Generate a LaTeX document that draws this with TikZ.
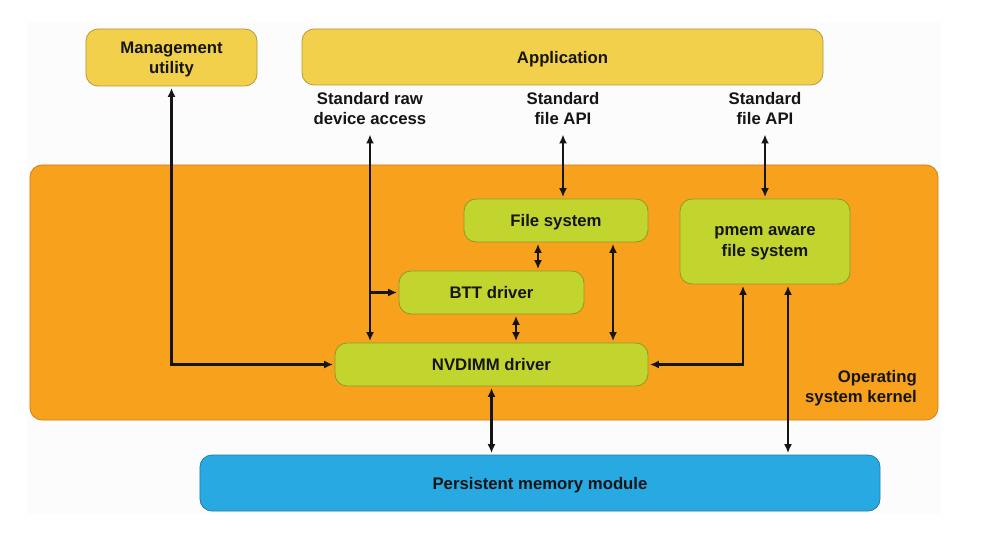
\documentclass[tikz,border=0pt]{standalone}
\usepackage{fontspec}
\setmainfont{Liberation Sans}
\usetikzlibrary{arrows.meta,calc}
\definecolor{yel}{HTML}{F2D04B}
\definecolor{yelb}{HTML}{B39A3C}
\definecolor{ora}{HTML}{F7A11C}
\definecolor{orab}{HTML}{C8821E}
\definecolor{grn}{HTML}{C2D52F}
\definecolor{grnb}{HTML}{8C9A25}
\definecolor{blu}{HTML}{28A9E1}
\definecolor{blub}{HTML}{1F7FA9}
\definecolor{txt}{HTML}{151515}
\definecolor{bgc}{HTML}{FCFCFC}
\tikzset{
  lbl/.style={font=\fontsize{16.8}{20.5}\selectfont\bfseries, text=txt, align=center, inner sep=0pt},
  boxbase/.style={rectangle, rounded corners=12bp, line width=0.8bp, lbl, text depth=0pt},
  ybox/.style={boxbase, fill=yel, draw=yelb},
  gbox/.style={boxbase, fill=grn, draw=grnb},
  bbox/.style={boxbase, fill=blu, draw=blub},
  tip/.style={Latex[length=9bp,width=8bp]},
  conn/.style={line width=2.4bp, draw=txt, {Latex[length=9bp,width=8bp]}-{Latex[length=9bp,width=8bp]}, shorten <=1.5bp, shorten >=1.5bp},
  oneway/.style={line width=2.4bp, draw=txt, -{Latex[length=9bp,width=8bp]}, shorten >=1.5bp}
}
\begin{document}
\begin{tikzpicture}[x=1bp,y=-1bp]
\useasboundingbox (0,0) rectangle (981,534);
\fill[white] (0,0) rectangle (981,534);
\fill[bgc] (27,22) rectangle (941,514);
% kernel
\node[rectangle, rounded corners=12bp, fill=ora, draw=orab, line width=0.8bp, minimum width=908bp, minimum height=255bp] (kern) at (484,292.5) {};
\node[lbl, anchor=east, align=right] (kernlbl) at (917,388) {Operating\\system kernel};
% top boxes
\node[ybox, minimum width=171bp, minimum height=57bp] (mgmt) at (171.5,57.5) {Management\\utility};
\node[ybox, minimum width=521bp, minimum height=56bp] (app) at (562.5,57) {Application};
% labels
\node[lbl] (raw) at (370,108.5) {Standard raw\\device access};
\node[lbl] (api1) at (563,108.5) {Standard\\file API};
\node[lbl] (api2) at (765,108.5) {Standard\\file API};
\coordinate (rawtip) at (370,133);
\coordinate (api1tip) at (563,133);
\coordinate (api2tip) at (765,133);
% inner boxes
\node[gbox, minimum width=184bp, minimum height=43bp] (fs) at (556,220.5) {File system};
\node[gbox, minimum width=170bp, minimum height=85bp] (pmem) at (765,241.5) {pmem aware\\file system};
\node[gbox, minimum width=185bp, minimum height=43bp] (btt) at (491.5,292.5) {BTT driver};
\node[gbox, minimum width=313bp, minimum height=43bp] (nvd) at (491.5,364.5) {NVDIMM driver};
\node[bbox, minimum width=680bp, minimum height=56bp] (pm) at (540,483) {Persistent memory module};
% connectors
\draw[conn] (mgmt.south) |- (nvd.west);
\draw[conn] (rawtip) -- (rawtip |- nvd.north);
\coordinate (rawbr) at (rawtip |- btt.west);
\draw[oneway] (rawbr) -- (btt.west);
\draw[conn] (api1tip) -- (api1tip |- fs.north);
\draw[conn] (api2tip) -- (api2tip |- pmem.north);
\draw[conn] ([xshift=-18bp]fs.south) -- ([xshift=-18bp]fs.south |- btt.north);
\draw[conn] ([xshift=57bp]fs.south) -- ([xshift=57bp]fs.south |- nvd.north);
\draw[conn] ([xshift=24.5bp]btt.south) -- ([xshift=24.5bp]btt.south |- nvd.north);
\draw[conn] ([xshift=-22bp]pmem.south) |- (nvd.east);
\draw[conn] ([xshift=23bp]pmem.south) -- ([xshift=23bp]pmem.south |- pm.north);
\draw[conn] (nvd.south) -- (nvd.south |- pm.north);
\end{tikzpicture}
\end{document}
